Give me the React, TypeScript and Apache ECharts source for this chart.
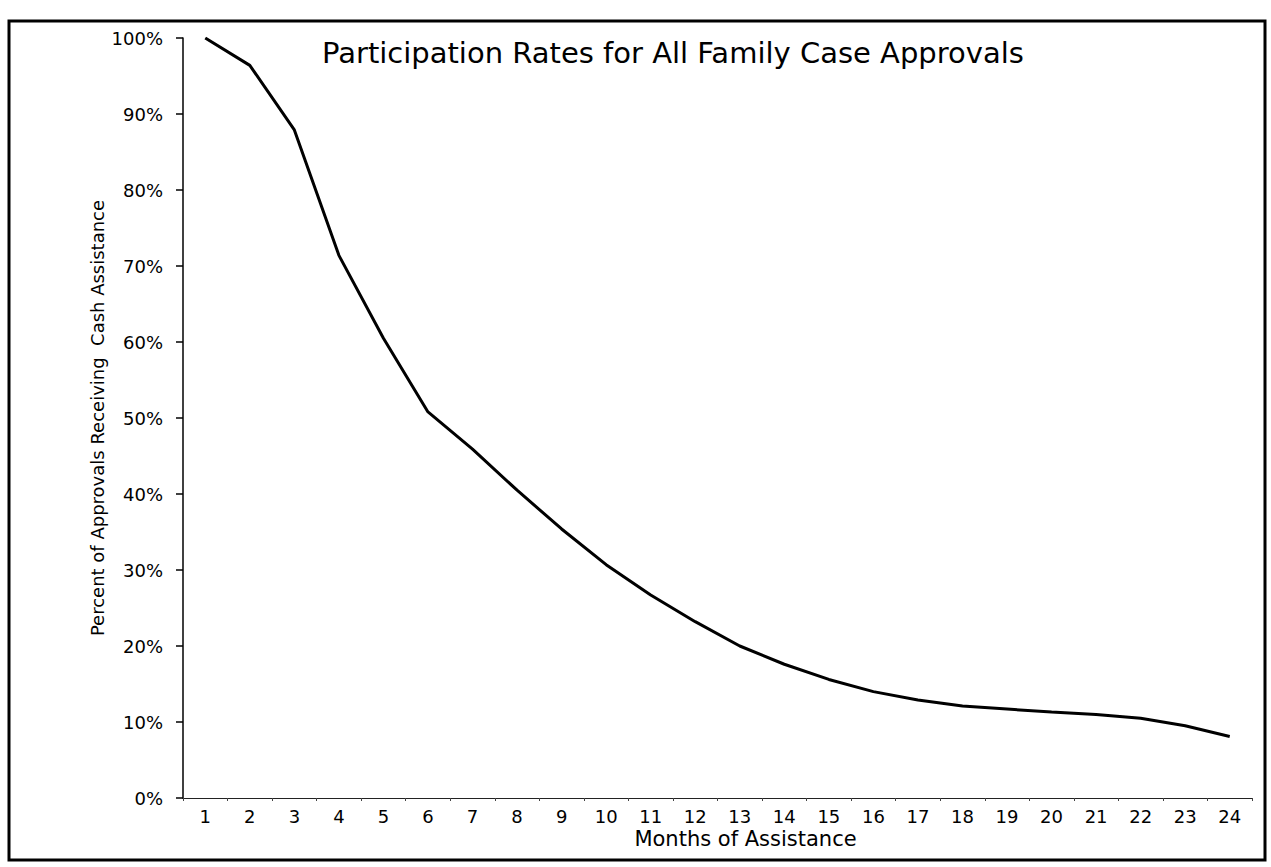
import React, { useEffect, useRef } from "react";
import * as echarts from "echarts";

const months: string[] = [
  "1", "2", "3", "4", "5", "6", "7", "8", "9", "10", "11", "12",
  "13", "14", "15", "16", "17", "18", "19", "20", "21", "22", "23", "24",
];

const participationRate: number[] = [
  100, 96.4, 87.9, 71.4, 60.5, 50.8, 45.9, 40.5, 35.4, 30.7, 26.7, 23.2,
  20.0, 17.6, 15.6, 14.0, 12.9, 12.1, 11.7, 11.3, 11.0, 10.5, 9.5, 8.1,
];

const titleText = "Participation Rates for All Family Case Approvals";
const xAxisName = "Months of Assistance";
const yAxisName = "Percent of Approvals Receiving  Cash Assistance";

const FONT = "'DejaVu Sans', 'Liberation Sans', Arial, sans-serif";

export default function App() {
  const ref = useRef<HTMLDivElement>(null);

  useEffect(() => {
    if (!ref.current) return;
    const chart = echarts.init(ref.current, undefined, { renderer: "svg" });
    chart.setOption({
      animation: false,
      backgroundColor: "#ffffff",
      textStyle: { fontFamily: FONT, color: "#000" },
      title: {
        text: titleText,
        left: 322,
        top: 38,
        padding: 0,
        textStyle: {
          fontFamily: FONT,
          fontSize: 29,
          fontWeight: "normal",
          color: "#000",
        },
      },
      graphic: [
        {
          type: "rect",
          shape: { x: 9, y: 21, width: 1256, height: 839 },
          style: { fill: "none", stroke: "#000", lineWidth: 3 },
          silent: true,
        },
      ],
      grid: {
        left: 183,
        top: 38,
        width: 1069,
        height: 760,
        containLabel: false,
      },
      xAxis: {
        type: "category",
        data: months,
        boundaryGap: true,
        name: xAxisName,
        nameLocation: "middle",
        nameGap: 30,
        nameMoveOverlap: false,
        nameTextStyle: {
          fontFamily: FONT,
          fontSize: 21,
          color: "#000",
          padding: [0, 0, 0, 56],
        },
        axisLine: { show: true, lineStyle: { color: "#222", width: 1.2 } },
        axisTick: { show: true, length: 3, lineStyle: { color: "#444" } },
        axisLabel: {
          fontFamily: FONT,
          fontSize: 18,
          color: "#000",
          margin: 9,
          interval: 0,
        },
        splitLine: { show: false },
      },
      yAxis: {
        type: "value",
        min: 0,
        max: 100,
        interval: 10,
        name: yAxisName,
        nameLocation: "middle",
        nameGap: 77,
        nameRotate: 90,
        nameMoveOverlap: false,
        nameTextStyle: { fontFamily: FONT, fontSize: 18, color: "#000" },
        axisLine: { show: true, lineStyle: { color: "#000", width: 1.5 } },
        axisTick: {
          show: true,
          inside: false,
          length: 7,
          lineStyle: { color: "#000", width: 1.5 },
        },
        axisLabel: {
          fontFamily: FONT,
          fontSize: 18,
          color: "#000",
          margin: 20,
          formatter: "{value}%",
        },
        splitLine: { show: false },
      },
      series: [
        {
          type: "line",
          data: participationRate,
          smooth: false,
          showSymbol: false,
          symbol: "none",
          lineStyle: { color: "#000", width: 3 },
          itemStyle: { color: "#000" },
        },
      ],
    });
    return () => chart.dispose();
  }, []);

  return (
    <div
      ref={ref}
      style={{
        position: "fixed",
        left: 0,
        top: 0,
        width: 1271,
        height: 867,
        background: "#fff",
      }}
    />
  );
}
